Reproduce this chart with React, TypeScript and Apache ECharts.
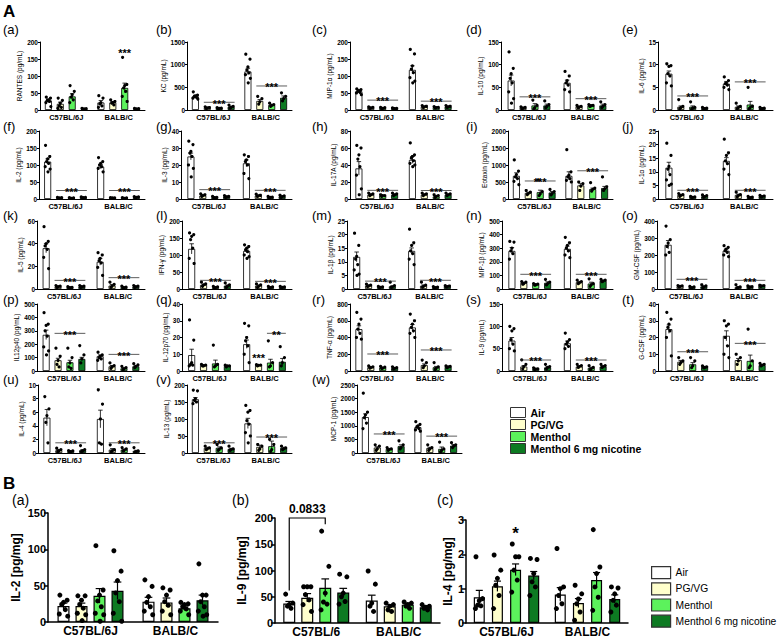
import React, { useEffect, useRef } from "react";
import * as echarts from "echarts";

const FONT = '"Liberation Sans", Arial, Helvetica, sans-serif';

// ---------------- data ----------------
const TREATMENTS = ["Air", "PG/VG", "Menthol", "Menthol 6 mg nicotine"];
const FILLS = ["#ffffff", "#ffffcc", "#5cf25c", "#0d7a22"];
const STRAINS = ["C57BL/6J", "BALB/C"];
const STRAINS_IL9 = ["C57BL/6", "BALB/C"];

const aTags = ["(a)","(b)","(c)","(d)","(e)","(f)","(g)","(h)","(i)","(j)","(k)","(l)","(m)","(n)","(o)","(p)","(q)","(r)","(s)","(t)","(u)","(v)","(w)"];
const aLabels = [
  "RANTES (pg/mL)", "KC (pg/mL)", "MIP-1α (pg/mL)", "IL-10 (pg/mL)", "IL-6 (pg/mL)",
  "IL-2 (pg/mL)", "IL-3 (pg/mL)", "IL-17A (pg/mL)", "Eotaxin (pg/mL)", "IL-1α (pg/mL)",
  "IL-5 (pg/mL)", "IFN-γ (pg/mL)", "IL-1β (pg/mL)", "MIP-1β (pg/mL)", "GM-CSF (pg/mL)",
  "IL12p40 (pg/mL)", "IL-12p70 (pg/mL)", "TNF-α (pg/mL)", "IL-9 (pg/mL)", "G-CSF (pg/mL)",
  "IL-4 (pg/mL)", "IL-13 (pg/mL)", "MCP-1 (pg/mL)",
];
const aMax = [200, 1500, 200, 150, 15, 200, 40, 80, 2000, 25, 60, 200, 25, 500, 400, 500, 40, 800, 150, 40, 10, 200, 2500];
const aInterval = [50, 500, 50, 50, 5, 50, 10, 20, 500, 5, 20, 50, 5, 100, 100, 100, 10, 200, 50, 10, 2, 50, 500];

// means: [C57 Air, PG/VG, Menthol, M6, BALB Air, PG/VG, Menthol, M6]
const aMean = [
  [28, 18, 40, 3, 22, 22, 65, 3],
  [300, 50, 40, 70, 850, 200, 110, 270],
  [55, 7, 6, 5, 118, 10, 8, 10],
  [65, 5, 10, 10, 60, 8, 10, 10],
  [8, 0.7, 0.7, 0.4, 5.8, 0.7, 1.2, 0.4],
  [110, 3, 3, 4, 95, 3, 3, 5],
  [25, 2, 1, 1.5, 21, 2, 1, 1.5],
  [36, 5, 4, 5, 46, 5, 3, 5],
  [680, 180, 200, 190, 680, 400, 290, 320],
  [11.5, 1.5, 0.8, 1, 14, 1.5, 0.6, 1],
  [36, 2, 1.5, 2, 24, 3, 1.5, 2],
  [118, 12, 5, 10, 112, 10, 5, 5],
  [11.8, 1.3, 0.7, 1, 14, 1.2, 0.6, 1],
  [280, 45, 35, 45, 295, 50, 40, 60],
  [260, 15, 10, 15, 225, 10, 12, 18],
  [270, 80, 65, 90, 110, 35, 20, 35],
  [9.5, 3.5, 4.5, 3, 16, 3.5, 5, 5.5],
  [500, 45, 40, 35, 520, 70, 45, 50],
  [68, 10, 5, 8, 62, 10, 7, 10],
  [25, 5.5, 4, 2.5, 21, 6.5, 6, 3.5],
  [5.2, 0.4, 0.25, 0.4, 5, 0.5, 0.5, 0.3],
  [158, 15, 15, 12, 87, 18, 20, 15],
  [1320, 200, 150, 250, 950, 180, 150, 270],
];
const aSem = [
  [4, 5, 8, 1, 6, 3, 14, 1],
  [25, 5, 5, 15, 70, 30, 15, 40],
  [4, 1, 1, 1, 12, 1.5, 1, 1.5],
  [12, 1, 4, 3, 6, 1, 2, 3],
  [0.6, 0.2, 0.2, 0.1, 0.5, 0.2, 0.7, 0.1],
  [8, 0.5, 0.5, 0.5, 6, 0.5, 0.5, 0.5],
  [2, 0.3, 0.2, 0.3, 2, 0.3, 0.2, 0.3],
  [8, 0.7, 0.5, 0.7, 4, 0.7, 0.5, 0.7],
  [90, 20, 60, 30, 120, 50, 30, 50],
  [2, 0.2, 0.1, 0.15, 1.2, 0.3, 0.1, 0.1],
  [4, 0.3, 0.2, 0.3, 3, 1, 0.3, 0.3],
  [15, 2, 1, 2, 6, 2, 1, 1],
  [1.8, 0.2, 0.1, 0.15, 1.1, 0.3, 0.1, 0.1],
  [25, 5, 4, 8, 20, 6, 10, 5],
  [25, 2, 2, 3, 10, 3, 2, 2],
  [35, 15, 15, 12, 10, 6, 5, 5],
  [3.5, 0.3, 2, 0.3, 2.5, 0.3, 2, 2],
  [40, 5, 5, 5, 35, 15, 10, 5],
  [7, 2, 1, 1.5, 5, 1.5, 1.5, 1.5],
  [2.5, 0.8, 1, 0.3, 3, 1, 3.5, 0.3],
  [1.2, 0.1, 0.05, 0.1, 1.3, 0.15, 0.1, 0.1],
  [5, 2, 3, 2, 15, 5, 15, 2],
  [120, 30, 20, 50, 50, 30, 70, 40],
];
const aPoints = [
  [[38,35,30,28,25,22,10],[35,28,20,12,8,5],[72,55,45,38,30,22],[5,4,3,2],[42,35,22,18,12,8],[30,25,22,20,15],[155,75,72,65,55,40,25],[5,4,3,2]],
  [[400,330,310,300,280,260,240],[70,55,45,35],[50,40,35,30],[110,80,60,40],[1230,1120,950,880,820,780,700,600],[300,250,180,130],[150,120,100,80],[380,300,250,200]],
  [[62,60,57,55,52,50,45],[9,8,6,5],[8,7,5,4],[6,5,4,3],[178,165,130,120,110,95,85,80],[13,11,9,7],[10,8,7,6],[13,11,9,8]],
  [[128,92,80,70,60,40,25,15],[7,6,4,3],[22,10,5,3],[20,12,8,5],[85,75,65,60,55,45,40],[10,8,6,5],[12,10,9,8],[18,12,8,5]],
  [[10.2,9.8,9.6,8,7.5,6,5.3],[2.3,0.8,0.5,0.3],[1.8,0.6,0.4,0.2],[0.6,0.4,0.3,0.2],[7.3,6.5,6,5.8,5.5,5,4.5],[1.5,0.8,0.5,0.3],[5,0.8,0.5,0.3],[0.6,0.4,0.3,0.2]],
  [[158,125,118,110,105,95,88,80],[5,4,3,2],[4,3,2,2],[6,5,4,3],[122,110,105,100,95,90,80],[4,3,3,2],[4,3,2,2],[7,6,5,4]],
  [[34,32,28,27,25,20,18,13],[3,2.5,2,1.5],[1.5,1,0.8,0.6],[2,1.5,1.2,1],[26,25,23,22,20,15,12],[2.8,2.2,1.8,1.5],[1.5,1.1,0.9,0.7],[2.2,1.8,1.4,1]],
  [[63,60,52,47,38,28,12,5],[7,6,5,4],[5,4,4,3],[7,6,5,4],[66,52,50,48,45,42,40,38],[7,6,5,4],[5,4,3,2],[7,6,5,4]],
  [[1150,820,720,650,600,520,420],[250,200,160,130],[560,220,150,100],[280,220,160,120],[1450,800,700,650,600,550,500],[500,450,380,250],[480,320,280,230],[650,360,300,250]],
  [[20.5,16,12,11,9,7,5.5,5],[2,1.6,1.3,1],[1,0.8,0.6,0.5],[1.5,1.2,0.9,0.7],[22,17,16,14,13,11,9],[2.5,1.6,1.2,0.8],[1,0.7,0.5,0.3],[1.3,1.1,0.9,0.8]],
  [[55,42,40,38,35,28,18],[3,2.5,2,1.5],[2,1.5,1.2,1],[3,2.5,2,1.5],[32,30,27,25,23,19,12],[6,4,2.5,1.5],[2.5,1.6,1.2,1],[3,2.5,2,1.5]],
  [[165,160,155,145,120,90,75],[20,15,12,8],[8,6,4,3],[18,12,8,5],[130,125,120,115,110,100,95,90],[15,12,8,5],[8,6,4,3],[8,6,5,4]],
  [[20.5,16,12,11,9,7,5.5,5],[1.8,1.4,1.1,0.9],[1,0.8,0.6,0.5],[2.5,1.2,0.8,0.6],[22,17,16,14,13,11,9],[2.5,1.4,1,0.7],[0.9,0.7,0.5,0.3],[1.2,1.1,0.9,0.8]],
  [[350,345,300,280,260,220],[55,50,40,35],[40,35,30,28],[70,50,40,30],[380,340,320,300,280,250,230],[65,55,45,40],[75,40,30,20],[70,65,58,55]],
  [[370,290,270,250,215,200],[20,18,15,12],[15,12,8,5],[25,18,12,8],[255,245,235,225,215,200,190],[25,12,8,5],[18,14,12,8],[22,20,18,15]],
  [[435,350,340,300,260,180,150,120],[170,110,80,50,30],[170,100,60,30,20],[190,120,90,60],[140,120,110,100,90,80],[60,40,30,20],[35,25,15,10],[55,45,35,25]],
  [[30.5,18.5,5,4,3.5,3],[4,3.5,3,3],[15.5,4,3,2.5],[3.5,3,3,2.5],[28.5,27,20,18,15,10,5],[3.8,3.5,3.3,3],[18,5,3,2.5],[14.5,8,5,3]],
  [[700,620,560,500,450,400,380],[60,50,40,35],[55,45,35,30],[50,40,30,25],[680,600,560,520,480,450,400],[130,100,60,40],[100,50,30,20],[60,55,50,40]],
  [[100,95,90,70,60,50,45],[25,15,10,5],[7,5,4,3],[15,10,8,5],[85,70,65,60,55,50],[15,12,10,8],[12,8,5,3],[15,12,10,8]],
  [[35,31,28,26,24,20,9],[8,6,5,4],[8,6,3,2],[3,2.5,2,2],[30,28,27,20,15,10,8],[10,8,6,4],[25,6,3,2],[4.5,4,3.5,3]],
  [[8.3,6.5,5.5,4.5,1.5],[0.7,0.5,0.3,0.2],[0.35,0.3,0.2,0.15],[1.1,0.5,0.3,0.2],[9.3,7.2,5,1.5,1.3],[1.2,0.5,0.3,0.2],[0.8,0.6,0.4,0.3],[0.8,0.3,0.2,0.1]],
  [[185,183,160,155,150,145],[20,15,12,10],[25,15,10,8],[20,12,10,8],[140,125,120,95,85,60,50,30],[25,20,12,8],[40,25,10,5],[20,15,12,10]],
  [[2200,1500,1400,1300,1100,900],[300,250,150,100],[200,150,120,100],[450,300,200,150],[1150,1050,1000,950,900,850,800],[300,200,150,100],[400,150,100,50],[380,300,250,200]],
];
// significance: [strain, fromBar, toBar, value, text, kind] kind 0 = line+text, 1 = text only, 2 = bracket
const aSig = [
  [[1, 2, 2, 176, "***", 1]],
  [[0, 1, 3, 170, "***", 0], [1, 1, 3, 530, "***", 0]],
  [[0, 1, 3, 29, "***", 0], [1, 1, 3, 26, "***", 0]],
  [[0, 1, 3, 29, "***", 0], [1, 1, 3, 25, "***", 0]],
  [[0, 1, 3, 3.1, "***", 0], [1, 1, 3, 6.2, "***", 0]],
  [[0, 1, 3, 25, "***", 0], [1, 1, 3, 25, "***", 0]],
  [[0, 1, 3, 5.5, "***", 0], [1, 1, 3, 5.1, "***", 0]],
  [[0, 1, 3, 10.2, "***", 0], [1, 1, 3, 10, "***", 0]],
  [[0, 1, 3, 530, "***", 0], [1, 1, 3, 830, "***", 0]],
  [[0, 1, 3, 3.2, "***", 0], [1, 1, 3, 3.2, "***", 0]],
  [[0, 1, 3, 7.6, "***", 0], [1, 1, 3, 10, "***", 0]],
  [[0, 1, 3, 25.5, "***", 0], [1, 1, 3, 22.5, "***", 0]],
  [[0, 1, 3, 2.9, "***", 0], [1, 1, 3, 3.2, "***", 0]],
  [[0, 1, 3, 108, "***", 0], [1, 1, 3, 108, "***", 0]],
  [[0, 1, 3, 57, "***", 0], [1, 1, 3, 51, "***", 0]],
  [[0, 1, 3, 281, "***", 0], [1, 1, 3, 124, "***", 0]],
  [[1, 1, 1, 9.5, "***", 1], [1, 2, 3, 22.5, "**", 0]],
  [[0, 1, 3, 203, "***", 0], [1, 1, 3, 251, "***", 0]],
  [[0, 1, 3, 24.6, "***", 0], [1, 1, 3, 24.6, "***", 0]],
  [[0, 1, 3, 11.5, "***", 0], [1, 1, 3, 16.5, "***", 0]],
  [[0, 1, 3, 1.5, "***", 0], [1, 1, 3, 1.5, "***", 0]],
  [[0, 1, 3, 30, "***", 0], [1, 1, 3, 47, "***", 0]],
  [[0, 1, 3, 700, "***", 0], [1, 1, 3, 620, "***", 0]],
];

const bTags = ["(a)", "(b)", "(c)"];
const bLabels = ["IL-2 [pg/mg]", "IL-9 [pg/mg]", "IL-4 [pg/mg]"];
const bMax = [150, 200, 3];
const bInterval = [50, 50, 1];
const bMean = [
  [22, 22, 36, 43, 28, 27, 19, 30],
  [37, 48, 67, 58, 43, 32, 35, 30],
  [0.75, 1.07, 1.55, 1.38, 0.83, 0.58, 1.25, 0.7],
];
const bSem = [
  [4, 4, 10, 12, 6, 6, 3, 7],
  [4, 8, 17, 8, 10, 3, 3, 3],
  [0.2, 0.15, 0.17, 0.12, 0.2, 0.13, 0.22, 0.12],
];
const bPoints = [
  [[37,30,27,24,17,11,8],[36,36,30,24,19,12,10,2],[105,44,37,29,21,12,10,1],[98,70,57,40,28,12,1],[58,49,35,27,21,15,10],[47,44,37,28,23,15,10],[27,25,24,21,18,15,10],[80,37,37,28,21,15,10,8]],
  [[55,38,35,32,28],[69,69,69,54,44,35,22],[175,108,57,40,36,25],[93,88,57,50,41,36],[99,74,38,32,22],[38,35,32,25,22],[40,38,35,32,28],[35,32,30,28,25]],
  [[1.93,0.71,0.65,0.52,0.5,0.42],[1.98,1.54,1.3,1.1,0.8,0.42],[2.3,1.93,1.93,1.54,1.25,0.9],[1.88,1.85,1.44,1.2,1.05,0.8],[2.17,1.05,1.0,0.8,0.56,0.42],[1.1,0.85,0.7,0.56,0.32,0.08],[2.72,1.63,1.44,1.05,0.75,0.37],[1.05,1.02,0.85,0.66,0.52,0.32]],
];
const bSig = [
  [],
  [[0, 0, 2, 200, "0.0833", 2, 62, 188]],
  [[0, 2, 2, 2.72, "*", 1]],
];
const bStrains = [STRAINS, STRAINS_IL9, STRAINS];

// ---------------- layout ----------------
const A_LEFT = [40, 187, 350, 501, 658, 39, 181, 350, 508, 658, 37, 182, 347, 502, 657, 37, 182, 350, 502, 658, 38, 187, 357];
const A_RIGHT = [145, 292, 457, 613, 773];
const A_TOP = [42, 131, 221, 304, 385];
const A_BOTTOM = [110, 199, 289, 371, 453];
const A_TAG_X = [3, 156, 312, 466, 622];
const A_TAG_Y = [23, 120, 209, 293, 373];
const B_BOX = [
  { left: 48, right: 218, top: 513, bottom: 622, tagX: 12, nameGap: 26, bw: 12, gap: 0.5 },
  { left: 275, right: 440, top: 518, bottom: 623, tagX: 232, nameGap: 27, bw: 12, gap: 0.5 },
  { left: 466, right: 628, top: 520, bottom: 623, tagX: 437, nameGap: 10, bw: 11, gap: 0.65 },
];
const JITTER = [-0.3, 0.3, 0, -0.15, 0.15, -0.35, 0.35, 0.05];

function makeRender(s: any) {
  return (_params: any, api: any) => {
    const children: any[] = [];
    const step = s.bw * (1 + s.gap);
    const total = 4 * s.bw + 3 * s.bw * s.gap;
    const off = (i: number) => -total / 2 + i * step + s.bw / 2;
    const cap = s.bw * 0.32;
    for (let c = 0; c < 2; c++) {
      const base = api.coord([c, 0]);
      for (let i = 0; i < 4; i++) {
        const k = c * 4 + i;
        const cx = base[0] + off(i);
        const m = s.mean[k];
        const e = s.sem[k];
        const yT = api.coord([c, m + e])[1];
        const yB = api.coord([c, Math.max(0, m - e)])[1];
        children.push({ type: "line", shape: { x1: cx, y1: yT, x2: cx, y2: yB }, style: { stroke: "#000", lineWidth: s.elw } });
        children.push({ type: "line", shape: { x1: cx - cap, y1: yT, x2: cx + cap, y2: yT }, style: { stroke: "#000", lineWidth: s.elw } });
        (s.pts[k] || []).forEach((v: number, j: number) => {
          const y = api.coord([c, v])[1];
          children.push({ type: "circle", shape: { cx: cx + JITTER[j % JITTER.length] * s.bw, cy: y, r: s.r }, style: { fill: "#000" } });
        });
      }
    }
    s.sig.forEach((g: any[]) => {
      const [c, f, t, v, txt, kind] = g;
      const base = api.coord([c, v]);
      const y = base[1];
      if (kind === 0) {
        const x1 = base[0] + off(f) - s.bw / 2;
        const x2 = base[0] + off(t) + s.bw / 2;
        children.push({ type: "line", shape: { x1, y1: y, x2, y2: y }, style: { stroke: "#333", lineWidth: s.sigLw } });
        children.push({ type: "text", style: { text: txt, x: (x1 + x2) / 2, y: y + s.starFs * 0.12, align: "center", verticalAlign: "middle", font: `bold ${s.starFs}px ${FONT}`, fill: "#000" } });
      } else if (kind === 1) {
        const x = base[0] + (off(f) + off(t)) / 2;
        children.push({ type: "text", style: { text: txt, x, y: y + s.starFs * 0.25, align: "center", verticalAlign: "middle", font: `bold ${s.bigStarFs}px ${FONT}`, fill: "#000" } });
      } else {
        const x1 = base[0] + off(f);
        const x2 = base[0] + off(t);
        const yl = api.coord([c, g[6]])[1];
        const yr = api.coord([c, g[7]])[1];
        children.push({ type: "polyline", shape: { points: [[x1, yl], [x1, y], [x2, y], [x2, yr]] }, style: { stroke: "#000", lineWidth: 1.2, fill: "none" } });
        children.push({ type: "text", style: { text: txt, x: (x1 + x2) / 2, y: y - 3, align: "center", verticalAlign: "bottom", font: `bold 12px ${FONT}`, fill: "#000" } });
      }
    });
    return { type: "group", children };
  };
}

function buildOption() {
  const specs: any[] = [];
  for (let k = 0; k < aLabels.length; k++) {
    const row = Math.floor(k / 5);
    const col = k % 5;
    const digits = String(aMax[k]).length;
    specs.push({
      left: A_LEFT[k], right: k === 22 ? 462 : A_RIGHT[col], top: A_TOP[row], bottom: A_BOTTOM[row],
      name: aLabels[k], max: aMax[k], interval: aInterval[k], mean: aMean[k], sem: aSem[k], pts: aPoints[k], sig: aSig[k],
      strains: STRAINS, bw: 7, gap: 0.7, r: 1.6, elw: 0.8, sigLw: 0.8, starFs: 11, bigStarFs: 11,
      tickFs: 6.5, xFs: 7.5, nameFs: 6.5, nameGap: digits * 3.6 + 6, axisLw: 1, tickLen: 2, borderW: 0.8,
    });
  }
  for (let k = 0; k < 3; k++) {
    const b = B_BOX[k];
    specs.push({
      left: b.left, right: b.right, top: b.top, bottom: b.bottom,
      name: bLabels[k], max: bMax[k], interval: bInterval[k], mean: bMean[k], sem: bSem[k], pts: bPoints[k], sig: bSig[k],
      strains: bStrains[k], bw: b.bw, gap: b.gap, r: 2.5, elw: 1.2, sigLw: 1.2, starFs: 16, bigStarFs: 17,
      tickFs: 11, xFs: 12, nameFs: 12, nameGap: b.nameGap, axisLw: 1.5, tickLen: 4, borderW: 1.2,
    });
  }

  const grid: any[] = [], xAxis: any[] = [], yAxis: any[] = [], series: any[] = [];
  specs.forEach((s, g) => {
    grid.push({ left: s.left, top: s.top, width: s.right - s.left, height: s.bottom - s.top, containLabel: false });
    xAxis.push({
      gridIndex: g, type: "category", data: s.strains,
      axisLine: { lineStyle: { color: "#000", width: s.axisLw } },
      axisTick: { alignWithLabel: true, length: s.tickLen, lineStyle: { color: "#000", width: s.axisLw } },
      axisLabel: { interval: 0, fontSize: s.xFs, fontWeight: "bold", color: "#000", margin: 3, fontFamily: FONT },
    });
    yAxis.push({
      gridIndex: g, type: "value", min: 0, max: s.max, interval: s.interval,
      name: s.name, nameLocation: "middle", nameGap: s.nameGap,
      nameTextStyle: { fontSize: s.nameFs, color: "#000", fontFamily: FONT, fontWeight: g >= 23 ? "bold" : "normal" },
      axisLine: { show: true, lineStyle: { color: "#000", width: s.axisLw } },
      axisTick: { show: true, length: s.tickLen, lineStyle: { color: "#000", width: s.axisLw } },
      splitLine: { show: false },
      axisLabel: { fontSize: s.tickFs, fontWeight: "bold", color: "#000", margin: 2, fontFamily: FONT, formatter: (v: number) => String(v) },
    });
    for (let i = 0; i < 4; i++) {
      series.push({
        type: "bar", name: TREATMENTS[i], xAxisIndex: g, yAxisIndex: g,
        data: [s.mean[i], s.mean[4 + i]],
        barWidth: s.bw, barGap: `${Math.round(s.gap * 100)}%`,
        itemStyle: { color: FILLS[i], borderColor: "#000", borderWidth: s.borderW },
        silent: true,
      });
    }
    series.push({ type: "custom", xAxisIndex: g, yAxisIndex: g, data: [[0, 0]], renderItem: makeRender(s), silent: true, z: 5 });
  });

  const graphic: any[] = [];
  graphic.push({ type: "text", left: 3, top: 3, style: { text: "A", font: `bold 17px ${FONT}`, fill: "#000" } });
  graphic.push({ type: "text", left: 3, top: 475, style: { text: "B", font: `bold 17px ${FONT}`, fill: "#000" } });
  aTags.forEach((t, k) => {
    graphic.push({ type: "text", left: A_TAG_X[k % 5], top: A_TAG_Y[Math.floor(k / 5)], style: { text: t, font: `13px ${FONT}`, fill: "#000" } });
  });
  bTags.forEach((t, k) => {
    graphic.push({ type: "text", left: B_BOX[k].tagX, top: 493, style: { text: t, font: `14px ${FONT}`, fill: "#000" } });
  });

  const legend = [
    {
      data: TREATMENTS, orient: "vertical", left: 505, top: 402, itemWidth: 15, itemHeight: 10, itemGap: 1, icon: "rect",
      selectedMode: false, itemStyle: { borderColor: "#333", borderWidth: 1 },
      textStyle: { fontSize: 10.5, fontWeight: "bold", color: "#000", fontFamily: FONT, lineHeight: 10 },
    },
    {
      data: TREATMENTS, orient: "vertical", left: 646, top: 561, itemWidth: 19, itemHeight: 12, itemGap: 3, icon: "rect",
      selectedMode: false, itemStyle: { borderColor: "#333", borderWidth: 1.2 },
      textStyle: { fontSize: 10.3, color: "#000", fontFamily: FONT, lineHeight: 12 },
    },
  ];

  return { animation: false, backgroundColor: "#fff", grid, xAxis, yAxis, series, graphic, legend };
}

export default function App() {
  const ref = useRef<HTMLDivElement>(null);
  useEffect(() => {
    if (!ref.current) return;
    const chart = echarts.init(ref.current, undefined, { renderer: "svg" });
    chart.setOption(buildOption() as any);
    return () => chart.dispose();
  }, []);
  return <div ref={ref} style={{ position: "absolute", left: 0, top: 0, width: 780, height: 642 }} />;
}
